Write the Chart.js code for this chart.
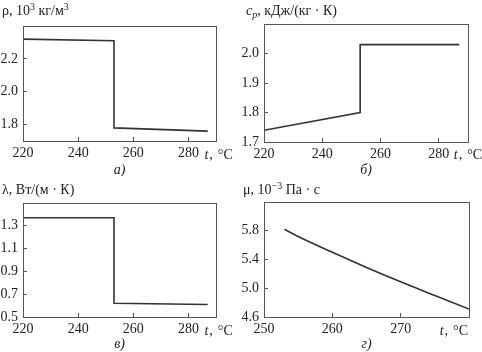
<!DOCTYPE html>
<html>
<head>
<meta charset="utf-8">
<script src="https://cdn.jsdelivr.net/npm/chart.js@4/dist/chart.umd.min.js"></script>
<style>
html,body{margin:0;padding:0;background:#fff;}
#wrap{position:relative;width:482px;height:352px;overflow:hidden;}
.cell{position:absolute;width:241px;height:176px;}
canvas{display:block;}
</style>
</head>
<body>
<div id="wrap">
  <div class="cell" style="left:0;top:0"><canvas id="cA" width="241" height="176"></canvas></div>
  <div class="cell" style="left:241px;top:0"><canvas id="cB" width="241" height="176"></canvas></div>
  <div class="cell" style="left:0;top:176px"><canvas id="cC" width="241" height="176"></canvas></div>
  <div class="cell" style="left:241px;top:176px"><canvas id="cD" width="241" height="176"></canvas></div>
</div>
<script>
// ---- data ----
const tempA = [220, 253, 253, 287];
const density = [2.32, 2.31, 1.78, 1.76];            // ρ, 10^3 кг/м^3
const tempB = [220, 253, 253, 287];
const heatCapacity = [1.74, 1.80, 2.03, 2.03];       // c_p, кДж/(кг·К)
const tempC = [220, 253, 253, 287];
const conductivity = [1.37, 1.37, 0.62, 0.61];       // λ, Вт/(м·К)
const tempD = [253, 255, 260, 265, 270, 275, 280];
const viscosity = [5.82, 5.72, 5.50, 5.29, 5.09, 4.90, 4.71]; // μ, 10^-3 Па·с

const xTicksABC = [220, 240, 260, 280];
const xTicksD = [250, 260, 270];
const yTicksA = [1.8, 2.0, 2.2];
const yTicksB = [1.7, 1.8, 1.9, 2.0];
const yTicksC = [0.5, 0.7, 0.9, 1.1, 1.3];
const yTicksD = [4.6, 5.0, 5.4, 5.8];

const FONT = '"Liberation Serif", "Times New Roman", serif';
const FS = 14;
const INK = '#222';
const AXIS = '#555';
const LINE = '#333';

function drawRich(ctx, segs, x, y) {
  let cx = x;
  for (const s of segs) {
    const size = s.size || FS;
    ctx.font = (s.italic ? 'italic ' : '') + size + 'px ' + FONT;
    ctx.fillText(s.text, cx, y + (s.dy || 0));
    cx += ctx.measureText(s.text).width + (s.gap || 0);
  }
  return cx - x;
}
function richWidth(ctx, segs) {
  let w = 0;
  for (const s of segs) {
    ctx.font = (s.italic ? 'italic ' : '') + (s.size || FS) + 'px ' + FONT;
    w += ctx.measureText(s.text).width + (s.gap || 0);
  }
  return w;
}

const textPlugin = {
  id: 'panelText',
  afterDraw(chart, args, o) {
    const ctx = chart.ctx;
    const ca = chart.chartArea;
    ctx.save();
    // frame
    ctx.strokeStyle = AXIS;
    ctx.lineWidth = 1;
    ctx.strokeRect(Math.round(ca.left) + 0.5, Math.round(ca.top) + 0.5,
                   Math.round(ca.right - ca.left), Math.round(ca.bottom - ca.top));
    ctx.fillStyle = INK;
    ctx.textBaseline = 'alphabetic';
    ctx.textAlign = 'left';
    // axis title (top-left)
    drawRich(ctx, o.title, o.titleX, o.titleY);
    // unit label on x axis
    const unit = [{text: 't', italic: true, gap: 1}, {text: ',', gap: 5}, {text: '°C'}];
    const uw = richWidth(ctx, unit);
    let ux;
    if (o.unitAnchor != null) {
      ux = chart.scales.x.getPixelForValue(o.unitAnchor) + o.unitDx;
    } else {
      ux = ca.right - uw + o.unitDx;
    }
    drawRich(ctx, unit, ux, o.unitY);
    // caption
    const cap = [{text: o.caption, italic: true}];
    const cw = richWidth(ctx, cap);
    drawRich(ctx, cap, (ca.left + ca.right) / 2 - cw / 2, o.captionY);
    ctx.restore();
  }
};

function makePanel(id, xs, ys, cfg) {
  const pts = xs.map((x, i) => ({x: x, y: ys[i]}));
  return new Chart(document.getElementById(id), {
    type: 'scatter',
    data: {
      datasets: [{
        data: pts,
        showLine: true,
        borderColor: LINE,
        borderWidth: 1.6,
        pointRadius: 0,
        pointHoverRadius: 0,
        cubicInterpolationMode: cfg.smooth ? 'monotone' : 'default',
        tension: 0
      }]
    },
    options: {
      responsive: false,
      animation: false,
      events: [],
      layout: { padding: cfg.padding },
      plugins: {
        legend: { display: false },
        tooltip: { enabled: false },
        panelText: cfg.text
      },
      scales: {
        x: {
          type: 'linear',
          min: cfg.xMin, max: cfg.xMax,
          afterBuildTicks: s => { s.ticks = cfg.xTicks.map(v => ({value: v})); },
          afterFit: s => { s.height = cfg.xH; },
          grid: { drawOnChartArea: false, drawTicks: true, tickLength: -4, color: AXIS, lineWidth: 1 },
          border: { display: true, color: AXIS, width: 1 },
          ticks: { color: INK, font: { family: FONT, size: FS }, padding: 8, maxRotation: 0, autoSkip: false,
                   callback: v => String(v) }
        },
        y: {
          type: 'linear',
          min: cfg.yMin, max: cfg.yMax,
          afterBuildTicks: s => { s.ticks = cfg.yTicks.map(v => ({value: v})); },
          afterFit: s => { s.width = cfg.yW; },
          grid: { drawOnChartArea: false, drawTicks: true, tickLength: -4, color: AXIS, lineWidth: 1 },
          border: { display: true, color: AXIS, width: 1 },
          ticks: { color: INK, font: { family: FONT, size: FS }, padding: 9, autoSkip: false,
                   callback: v => v.toFixed(1) }
        }
      }
    },
    plugins: [textPlugin]
  });
}

makePanel('cA', tempA, density, {
  xMin: 220, xMax: 290, yMin: 1.7, yMax: 2.4, xTicks: xTicksABC, yTicks: yTicksA,
  yW: 23, xH: 20, padding: {left: 0, right: 25, top: 26, bottom: 15},
  text: {
    title: [{text: 'ρ, 10'}, {text: '3', size: 10, dy: -5}, {text: ' кг/м'}, {text: '3', size: 10, dy: -5}],
    titleX: 2, titleY: 15, unitAnchor: 280, unitDx: 16, unitY: 159, caption: 'а)', captionY: 174
  }
});
makePanel('cB', tempB, heatCapacity, {
  xMin: 220, xMax: 290, yMin: 1.7, yMax: 2.1, xTicks: xTicksABC, yTicks: yTicksB,
  yW: 23, xH: 20, padding: {left: 0, right: 14, top: 24, bottom: 14},
  text: {
    title: [{text: 'c', italic: true}, {text: 'p', italic: true, size: 10, dy: 3}, {text: ', кДж/(кг · К)'}],
    titleX: 5, titleY: 15, unitAnchor: 280, unitDx: 15, unitY: 159, caption: 'б)', captionY: 174
  }
});
makePanel('cC', tempC, conductivity, {
  xMin: 220, xMax: 290, yMin: 0.5, yMax: 1.5, xTicks: xTicksABC, yTicks: yTicksC,
  yW: 23, xH: 20, padding: {left: 0, right: 25, top: 27, bottom: 15},
  text: {
    title: [{text: 'λ, Вт/(м · К)'}],
    titleX: 2, titleY: 18, unitAnchor: 280, unitDx: 16, unitY: 159, caption: 'в)', captionY: 172
  }
});
makePanel('cD', tempD, viscosity, {
  xMin: 250, xMax: 280, yMin: 4.6, yMax: 6.2, xTicks: xTicksD, yTicks: yTicksD, smooth: true,
  yW: 23, xH: 20, padding: {left: 0, right: 13, top: 26, bottom: 15},
  text: {
    title: [{text: 'μ, 10'}, {text: '−3', size: 10, dy: -5}, {text: ' Па · с'}],
    titleX: 2, titleY: 18, unitAnchor: null, unitDx: -1, unitY: 159, caption: 'г)', captionY: 172
  }
});
</script>
</body>
</html>
